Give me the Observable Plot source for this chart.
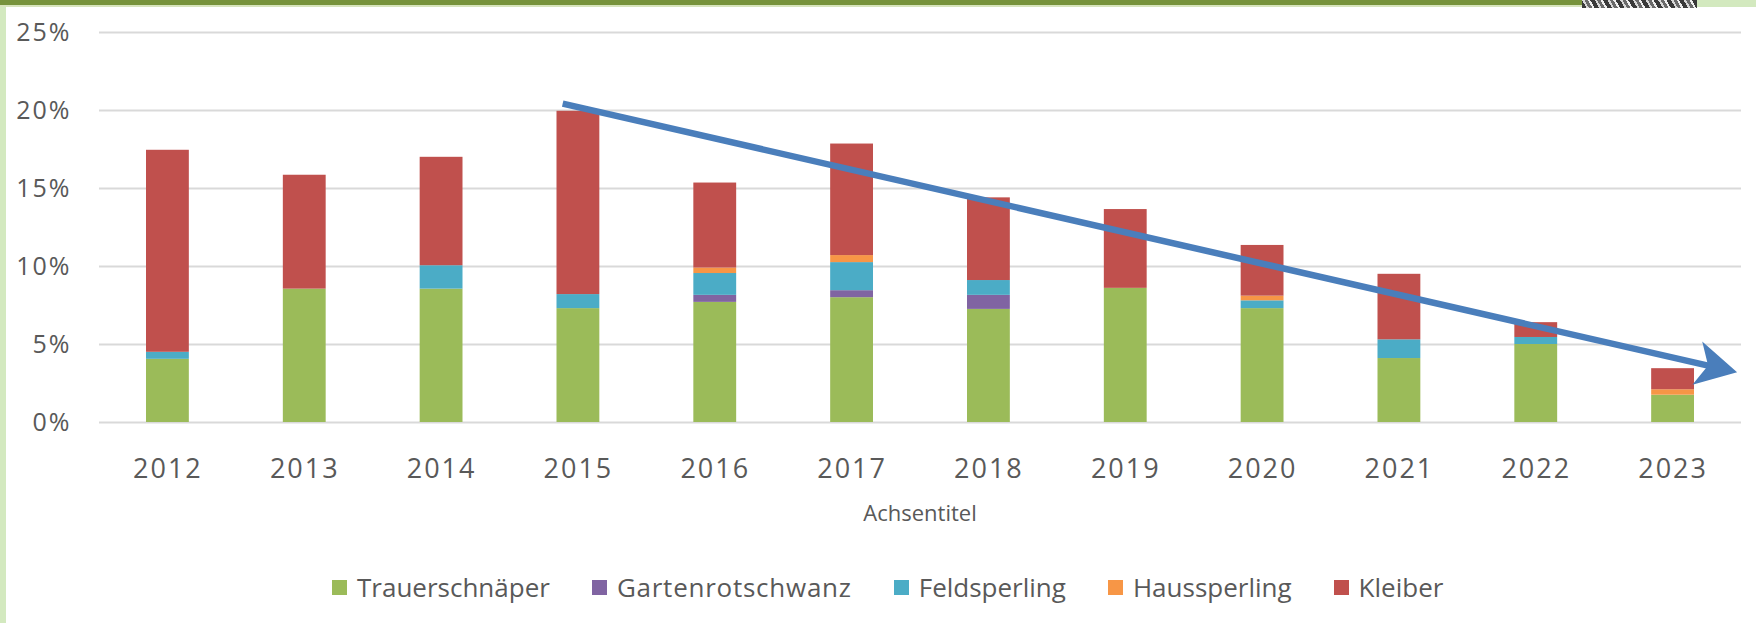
<!DOCTYPE html>
<html>
<head>
<meta charset="utf-8">
<script src="https://cdn.jsdelivr.net/npm/d3@7"></script>
<script src="https://cdn.jsdelivr.net/npm/@observablehq/plot@0.6"></script>
<style>
  html, body { margin: 0; padding: 0; background: #ffffff; }
  body { width: 1756px; height: 623px; position: relative; overflow: hidden; font-family: "Open Sans", sans-serif; color: #595959; }
  #topbar { position: absolute; left: 0; top: 0; width: 1582px; height: 5px; background: #77933C; }
  #topline { position: absolute; left: 0; top: 5px; width: 1756px; height: 2px; background: #D7E4BD; }
  #topright { position: absolute; left: 1697px; top: 0; width: 59px; height: 7px; background: #D3E9BF; }
  #topimg { position: absolute; left: 1582px; top: 0; width: 115px; height: 8px;
            background: repeating-linear-gradient(60deg, #3a3a3a 0 4px, #d8d8d8 4px 6px, #6a6a6a 6px 9px, #f0f0f0 9px 11px); }
  #leftbar { position: absolute; left: 0; top: 0; width: 6px; height: 623px; background: #D3E9BF; }
  #chart { position: absolute; left: 0; top: 0; }
  #axistitle { position: absolute; left: 820px; width: 200px; top: 497px; text-align: center; font-size: 22px; color: #595959; }
  #legend { position: absolute; left: 332px; top: 569px; display: flex; align-items: center; gap: 42px; font-size: 26px; color: #595959; }
  .item { display: flex; align-items: center; gap: 10px; }
  .item:nth-child(2) span:last-child { letter-spacing: 0.75px; }
  .sw { width: 15px; height: 15px; display: inline-block; }
  svg g[aria-label="x-axis tick label"] text { letter-spacing: 2px; }
  svg g[aria-label="y-axis tick label"] text { letter-spacing: 2px; }
</style>
</head>
<body>
<div id="chart"></div>
<div id="leftbar"></div>
<div id="topbar"></div>
<div id="topline"></div>
<div id="topimg"></div>
<div id="topright"></div>
<div id="axistitle">Achsentitel</div>
<div id="legend"></div>
<script>
const years = [2012, 2013, 2014, 2015, 2016, 2017, 2018, 2019, 2020, 2021, 2022, 2023];
const species = ["Trauerschnäper", "Gartenrotschwanz", "Feldsperling", "Haussperling", "Kleiber"];
const speciesColors = ["#9BBB59", "#8064A2", "#4BACC6", "#F79646", "#C0504D"];

// values in percent
const trauerschnaeper  = [4.05, 8.55, 8.55, 7.3, 7.7, 8.0, 7.25, 8.6, 7.3, 4.1, 5.0, 1.75];
const gartenrotschwanz = [0, 0, 0, 0, 0.45, 0.45, 0.9, 0, 0, 0, 0, 0];
const feldsperling     = [0.45, 0, 1.5, 0.9, 1.4, 1.8, 0.95, 0, 0.5, 1.2, 0.45, 0];
const haussperling     = [0, 0, 0, 0, 0.35, 0.45, 0, 0, 0.3, 0, 0, 0.35];
const kleiber          = [12.95, 7.3, 6.95, 11.75, 5.45, 7.15, 5.3, 5.05, 3.25, 4.2, 0.95, 1.35];

const yTicks = [0, 5, 10, 15, 20, 25];

// hand-drawn trend arrow (start / end in data units)
const trendYears  = [2014.885, 2023.28];
const trendValues = [20.44, 3.6];

const seriesValues = [trauerschnaeper, gartenrotschwanz, feldsperling, haussperling, kleiber];

// stacked rows
const rows = [];
years.forEach((yr, j) => {
  let acc = 0;
  species.forEach((s, i) => {
    const v = seriesValues[i][j];
    rows.push({ species: s, x1: yr - 0.5, x2: yr + 0.5, y1: acc, y2: acc + v });
    acc += v;
  });
});

const trend = [{ x1: trendYears[0], y1: trendValues[0], x2: trendYears[1], y2: trendValues[1] }];

// "stealth" arrowhead symbol (pointing up before rotation)
const stealth = {
  draw(context, size) {
    const r = Math.sqrt(size / Math.PI);
    context.moveTo(0, -1.55 * r);
    context.lineTo(1.3 * r, 0.85 * r);
    context.lineTo(0, 0.2 * r);
    context.lineTo(-1.3 * r, 0.85 * r);
    context.closePath();
  }
};

const plot = Plot.plot({
  width: 1756,
  height: 495,
  marginLeft: 99,
  marginRight: 15,
  marginTop: 32,
  marginBottom: 73,
  style: { fontFamily: "Open Sans, sans-serif", color: "#595959", background: "transparent", overflow: "visible" },
  x: { domain: [2011.5, 2023.5] },
  y: { domain: [0, 25] },
  color: { domain: species, range: speciesColors },
  marks: [
    Plot.gridY(yTicks, { stroke: "#D9D9D9", strokeOpacity: 1, strokeWidth: 2 }),
    Plot.rect(rows, { x1: "x1", x2: "x2", y1: "y1", y2: "y2", fill: "species", insetLeft: 47, insetRight: 47 }),
    Plot.axisY({ ticks: yTicks, tickFormat: d => d + "%", tickSize: 0, tickPadding: 28, label: null, fontSize: 25 }),
    Plot.axisX({ ticks: years, tickFormat: d => String(d), tickSize: 0, tickPadding: 36, label: null, fontSize: 27 }),
    Plot.link(trend, { x1: "x1", y1: "y1", x2: "x2", y2: "y2", stroke: "#4A7EBB", strokeWidth: 6.5 }),
    Plot.dot(trend, { x: "x2", y: "y2", symbol: stealth, r: 17, fill: "#4A7EBB", stroke: "none", rotate: 102.85 })
  ]
});
document.getElementById("chart").appendChild(plot);

const legend = document.getElementById("legend");
species.forEach((s, i) => {
  const item = document.createElement("div");
  item.className = "item";
  const sw = document.createElement("span");
  sw.className = "sw";
  sw.style.background = speciesColors[i];
  const t = document.createElement("span");
  t.textContent = s;
  item.appendChild(sw);
  item.appendChild(t);
  legend.appendChild(item);
});
</script>
</body>
</html>
